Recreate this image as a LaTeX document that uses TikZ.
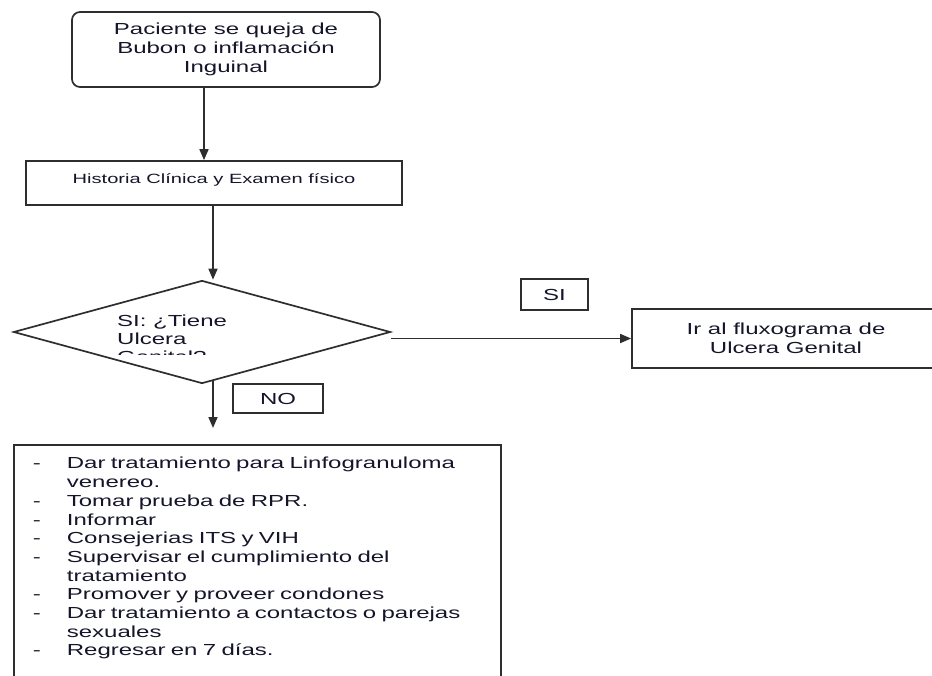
\documentclass[tikz,border=0pt]{standalone}
\usepackage{fontspec}
\setmainfont{Liberation Sans}[FakeStretch=1.5]
\usepackage{tikz}
\usetikzlibrary{
  arrows.meta,
  shapes.geometric,
  positioning
}
\definecolor{fxLine}{HTML}{2E2E2E}
\definecolor{fxText}{HTML}{15152A}
\tikzset{
  fxnode/.style={
    draw=fxLine, line width=1.7pt, inner sep=0pt,
    font=\fontsize{16}{19}\selectfont, text=fxText, align=center
  },
  startbox/.style={fxnode, rounded corners=8pt, minimum width=308pt, minimum height=75pt},
  stepbox/.style={fxnode, minimum width=376pt, minimum height=44pt, font=\fontsize{13.4}{16}\selectfont},
  decision/.style={fxnode, diamond, minimum width=377pt, minimum height=103pt},
  gotobox/.style={fxnode, minimum width=308pt, minimum height=59pt},
  tagbox/.style={fxnode},
  asktext/.style={font=\fontsize{16}{18}\selectfont, text=fxText, align=left, inner sep=0pt, anchor=north west},
  listbox/.style={
    fxnode, anchor=north west, text width=487pt, align=left,
    inner xsep=0pt, inner ysep=11pt, text depth=235pt,
    font=\fontsize{16}{18.7}\selectfont
  },
  flow/.style={-{Triangle[length=11pt, width=9pt]}, line width=1.7pt, fxLine}
}

\begin{document}
\begin{tikzpicture}[x=1pt, y=-1pt]
  \useasboundingbox (0,0) rectangle (932,675);
  \node[startbox] (start) at (226,49.5) {Paciente se queja de\\Bubon o inflamación\\Inguinal};
  \node[stepbox, text height=10pt, text depth=10pt] (hist) at (214,183) {Historia Clínica y Examen físico};
  \node[decision] (dec) at (202,332) {};
  \begin{scope}
    \clip (100,300) rectangle (300,354);
    \node[asktext] (ask) at (117,314.5) {SI: ¿Tiene\\Ulcera\\Genital?};
  \end{scope}
  \node[gotobox] (ir) at (786,338.5) {Ir al fluxograma de\\Ulcera Genital};
  \node[tagbox, minimum width=67pt, minimum height=31pt] (lbsi) at (554.5,294.5) {SI};
  \node[tagbox, minimum width=90pt, minimum height=29pt] (lbno) at (278,398.5) {NO};
  \node[listbox] (todo) at (13,444) {%
    \begin{tabular}[t]{@{\hspace{19pt}}l@{\hspace{26pt}}l@{}}
      - & Dar tratamiento para Linfogranuloma\\
        & venereo.\\
      - & Tomar prueba de RPR.\\
      - & Informar\\
      - & Consejerias ITS y VIH\\
      - & Supervisar el cumplimiento del\\
        & tratamiento\\
      - & Promover y proveer condones\\
      - & Dar tratamiento a contactos o parejas\\
        & sexuales\\
      - & Regresar en 7 días.
    \end{tabular}};
  % connectors
  \coordinate (ax1) at (204,0);
  \coordinate (ax2) at (213,0);
  \draw[flow] (start.south -| ax1) -- (hist.north -| ax1);
  \draw[flow] (hist.south -| ax2) -- (dec.north -| ax2);
  \draw[flow] (dec.east |- ir.west) -- (ir.west);
  \draw[flow, shorten <=-3pt, shorten >=16pt] (dec.south -| ax2) -- (todo.north -| ax2);
\end{tikzpicture}
\end{document}
